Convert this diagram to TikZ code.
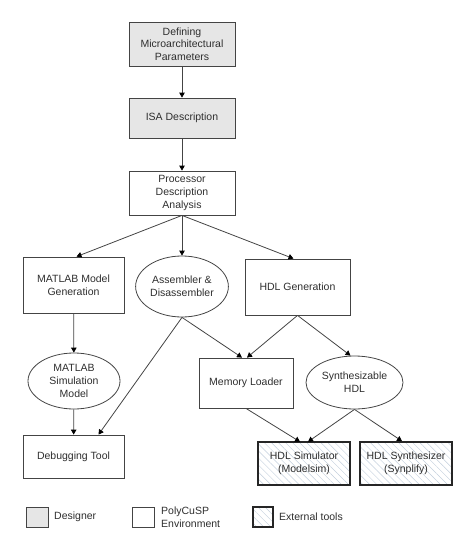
\documentclass[tikz,border=0pt]{standalone}
\usepackage{fontspec}
\setmainfont{Liberation Sans}
\usepackage{xcolor}
\usepackage{tikz}
\usetikzlibrary{arrows.meta,shapes.geometric,patterns.meta}
\definecolor{designergray}{HTML}{E6E6E6}
\definecolor{linegray}{HTML}{444444}
\definecolor{textgray}{HTML}{2E2E2E}
\definecolor{hatchblue}{HTML}{C2CEDC}
\tikzset{
  line/.style={draw=linegray, -{Triangle[length=5pt,width=5.5pt,color=black]}, line width=0.8pt},
  box/.style={
    draw=linegray,
    line width=0.8pt,
    align=center,
    text=textgray,
    font=\fontsize{10.5}{12.7}\selectfont,
    inner sep=1pt,
    minimum width=106pt
  },
  oval/.style={box, ellipse},
  designer/.style={box, fill=designergray},
  external/.style={
    box,
    draw=black!85,
    line width=1.7pt,
    pattern={Lines[angle=-45,distance=5pt,line width=0.45pt]},
    pattern color=hatchblue
  },
  legendtext/.style={anchor=west, align=left, text=textgray,
    font=\fontsize{10.5}{12.7}\selectfont, inner sep=0pt}
}

\begin{document}
\begin{tikzpicture}[x=1pt,y=-1pt]
  \path[use as bounding box] (0,0) rectangle (461,539);

  \node[designer, minimum height=44pt] (define) at (182,44)
    {Defining\\Microarchitectural\\Parameters};
  \node[designer, minimum height=40pt] (isa) at (182,118)
    {ISA Description};
  \node[box, minimum height=44pt] (proc) at (182,193)
    {Processor\\Description\\Analysis};

  \node[box, minimum width=101pt, minimum height=56pt] (mgen) at (73.5,285)
    {MATLAB Model\\Generation};
  \node[oval, minimum width=92pt, minimum height=61pt] (asm) at (182,286.5)
    {Assembler \&\\Disassembler};
  \node[box, minimum width=105pt, minimum height=56pt] (hdlgen) at (297.5,287)
    {HDL Generation};

  \node[oval, minimum width=92pt, minimum height=56pt] (msim) at (74,381)
    {MATLAB\\Simulation\\Model};
  \node[box, minimum width=94pt, minimum height=50pt] (memld) at (246,383)
    {Memory Loader};
  \node[oval, minimum width=97pt, minimum height=53pt] (synhdl) at (354.5,382.5)
    {Synthesizable\\HDL};

  \node[box, minimum width=101pt, minimum height=43pt] (debug) at (73.5,456.5)
    {Debugging Tool};
  \node[external, minimum width=92pt, minimum height=43pt] (hdlsim) at (304,463.5)
    {HDL Simulator\\(Modelsim)};
  \node[external, minimum width=92pt, minimum height=43pt] (hdlsyn) at (406,463.5)
    {HDL Synthesizer\\(Synplify)};

  % legend
  \node[designer, minimum width=22pt, minimum height=20pt] (keydes) at (37,517) {};
  \node[legendtext] (keydestext) at (54,517) {Designer};
  \node[box, minimum width=22pt, minimum height=20pt] (keyenv) at (143,517) {};
  \node[legendtext] (keyenvtext) at (161,517) {PolyCuSP\\Environment};
  \node[external, minimum width=20pt, minimum height=20pt] (keyext) at (263,517) {};
  \node[legendtext] (keyexttext) at (279,517) {External tools};

  \draw[line] (define) -- (isa);
  \draw[line] (isa) -- (proc);

  \draw[line] (proc.south) -- ([xshift=3pt]mgen.north);
  \draw[line] (proc.south) -- (asm.north);
  \draw[line] (proc.south) -- ([xshift=-4pt]hdlgen.north);

  \draw[line] (mgen) -- (msim);
  \draw[line] (asm.south) -- ([xshift=25pt]debug.north);
  \draw[line] (asm.south) -- ([xshift=-4pt]memld.north);
  \draw[line] (hdlgen.south) -- ([xshift=1pt]memld.north);
  \draw[line] (hdlgen.south) -- ([xshift=-4pt]synhdl.north);

  \draw[line] (msim) -- (debug);
  \draw[line] (memld.south) -- ([xshift=-4pt]hdlsim.north);
  \draw[line] (synhdl.south) -- ([xshift=4pt]hdlsim.north);
  \draw[line] (synhdl.south) -- ([xshift=-4pt]hdlsyn.north);
\end{tikzpicture}
\end{document}
